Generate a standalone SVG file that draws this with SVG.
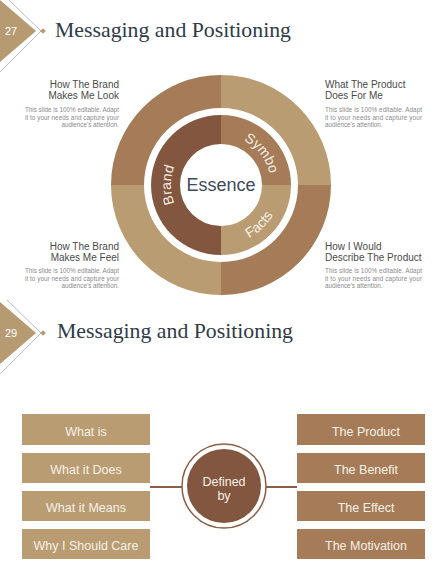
<svg xmlns="http://www.w3.org/2000/svg" width="442" height="572" viewBox="0 0 442 572">
<defs>
<style>
.title{font-family:"Liberation Serif","DejaVu Serif",serif;font-size:22px;fill:#2f3a48}
.num{font-family:"Liberation Sans",Arial,sans-serif;font-size:11px;fill:#ffffff}
.head{font-family:"Liberation Sans",Arial,sans-serif;font-size:10px;fill:#4a4a4a}
.body{font-family:"Liberation Sans",Arial,sans-serif;font-size:6.3px;fill:#8a8a8a}
.ring{font-family:"Liberation Sans",Arial,sans-serif;font-size:14px;fill:#f6efe4}
.box{font-family:"Liberation Sans",Arial,sans-serif;font-size:12.5px;fill:#f7f1e8;text-anchor:middle}
.lt{fill:#b99c71}.dk{fill:#a57c57}.br{fill:#83563f}
.gl{stroke:#bdbdbd;stroke-width:1;fill:none}
</style>
<path id="pBrand" d="M188.9,223.3 A50 50 0 0 1 188.9,146.7"/>
<path id="pSymbo" d="M222.7,135 A50 50 0 0 1 269.9,195.4"/>
<path id="pFacts" d="M214.7,244.7 A60 60 0 0 0 280.9,180.8"/>
</defs>
<rect width="442" height="572" fill="#ffffff"/>

<g id="header1">
<polygon points="0,0 36,31 0,62" fill="#b69b72"/>
<line class="gl" x1="9" y1="0" x2="41" y2="31"/>
<line class="gl" x1="41" y1="31" x2="-5" y2="77"/>
<rect x="41" y="29" width="4" height="4" transform="rotate(45 43 31)" fill="#b69b72"/>
<text class="num" x="5" y="35">27</text>
<text class="title" x="55" y="37" textLength="236" lengthAdjust="spacingAndGlyphs">Messaging and Positioning</text>
</g>

<g id="ring-diagram">
<path class="dk" d="M111,185 A110 110 0 0 1 221,75 L221,108 A77 77 0 0 0 144,185 Z"/>
<path class="lt" d="M221,75 A110 110 0 0 1 331,185 L298,185 A77 77 0 0 0 221,108 Z"/>
<path class="dk" d="M331,185 A110 110 0 0 1 221,295 L221,262 A77 77 0 0 0 298,185 Z"/>
<path class="lt" d="M221,295 A110 110 0 0 1 111,185 L144,185 A77 77 0 0 0 221,262 Z"/>
<path class="br" d="M221,115 A70 70 0 0 0 221,255 L221,226 A41 41 0 0 1 221,144 Z"/>
<path class="dk" d="M221,115 A70 70 0 0 1 291,185 L262,185 A41 41 0 0 0 221,144 Z"/>
<path class="lt" d="M291,185 A70 70 0 0 1 221,255 L221,226 A41 41 0 0 0 262,185 Z"/>
<text class="ring"><textPath href="#pBrand" startOffset="50%" text-anchor="middle">Brand</textPath></text>
<text class="ring"><textPath href="#pSymbo" startOffset="50%" text-anchor="middle">Symbo</textPath></text>
<text class="ring"><textPath href="#pFacts" startOffset="50%" text-anchor="middle">Facts</textPath></text>
<text x="221" y="191" font-family="Liberation Sans,Arial,sans-serif" font-size="18" fill="#3d4a5c" text-anchor="middle">Essence</text>
</g>

<g id="text-look">
<text class="head" x="119" y="88" text-anchor="end">How The Brand</text>
<text class="head" x="119" y="99" text-anchor="end">Makes Me Look</text>
<text class="body" x="25" y="112" textLength="94" lengthAdjust="spacing">This slide is 100% editable. Adapt</text>
<text class="body" x="25" y="119.5" textLength="94" lengthAdjust="spacing">it to your needs and capture your</text>
<text class="body" x="119" y="127" text-anchor="end">audience's attention.</text>
</g>
<g id="text-feel">
<text class="head" x="119" y="250" text-anchor="end">How The Brand</text>
<text class="head" x="119" y="261" text-anchor="end">Makes Me Feel</text>
<text class="body" x="25" y="273" textLength="94" lengthAdjust="spacing">This slide is 100% editable. Adapt</text>
<text class="body" x="25" y="280.5" textLength="94" lengthAdjust="spacing">it to your needs and capture your</text>
<text class="body" x="119" y="288" text-anchor="end">audience's attention.</text>
</g>
<g id="text-does">
<text class="head" x="325" y="88">What The Product</text>
<text class="head" x="325" y="99">Does For Me</text>
<text class="body" x="325" y="112" textLength="97" lengthAdjust="spacing">This slide is 100% editable. Adapt</text>
<text class="body" x="325" y="119.5" textLength="97" lengthAdjust="spacing">it to your needs and capture your</text>
<text class="body" x="325" y="127">audience's attention.</text>
</g>
<g id="text-describe">
<text class="head" x="325" y="250">How I Would</text>
<text class="head" x="325" y="261">Describe The Product</text>
<text class="body" x="325" y="273" textLength="97" lengthAdjust="spacing">This slide is 100% editable. Adapt</text>
<text class="body" x="325" y="280.5" textLength="97" lengthAdjust="spacing">it to your needs and capture your</text>
<text class="body" x="325" y="288">audience's attention.</text>
</g>

<g id="header2">
<polygon points="0,302 36,333 0,364" fill="#b69b72"/>
<line class="gl" x1="7" y1="300" x2="41" y2="333"/>
<line class="gl" x1="41" y1="333" x2="-5" y2="379"/>
<rect x="41" y="331" width="4" height="4" transform="rotate(45 43 333)" fill="#b69b72"/>
<text class="num" x="5" y="337">29</text>
<text class="title" x="57" y="338" textLength="236" lengthAdjust="spacingAndGlyphs">Messaging and Positioning</text>
</g>

<g id="connectors">
<line x1="150" y1="487" x2="182" y2="487" stroke="#8b5e45" stroke-width="2"/>
<line x1="266" y1="487" x2="297" y2="487" stroke="#8b5e45" stroke-width="2"/>
</g>

<g id="defined-by">
<circle cx="224" cy="486" r="42" fill="#ffffff" stroke="#8b5e45" stroke-width="1.5"/>
<circle cx="224" cy="486" r="37" class="br"/>
<text class="box" x="224" y="486" font-size="13" fill="#efe2d2">Defined</text>
<text class="box" x="224" y="500" font-size="13" fill="#efe2d2">by</text>
</g>

<g id="box-what-is"><rect x="22" y="414" width="128" height="31" class="lt"/><text class="box" x="86" y="435.5">What is</text></g>
<g id="box-what-does"><rect x="22" y="453" width="128" height="30" class="lt"/><text class="box" x="86" y="473.5">What it Does</text></g>
<g id="box-what-means"><rect x="22" y="491" width="128" height="30" class="lt"/><text class="box" x="86" y="511.5">What it Means</text></g>
<g id="box-why-care"><rect x="22" y="529" width="128" height="30" class="lt"/><text class="box" x="86" y="549.5">Why I Should Care</text></g>

<g id="box-product"><rect x="297" y="414" width="128" height="31" class="dk"/><text class="box" x="366" y="435.5">The Product</text></g>
<g id="box-benefit"><rect x="297" y="453" width="128" height="30" class="dk"/><text class="box" x="366" y="473.5">The Benefit</text></g>
<g id="box-effect"><rect x="297" y="491" width="128" height="30" class="dk"/><text class="box" x="366" y="511.5">The Effect</text></g>
<g id="box-motivation"><rect x="297" y="529" width="128" height="30" class="dk"/><text class="box" x="366" y="549.5">The Motivation</text></g>
</svg>
